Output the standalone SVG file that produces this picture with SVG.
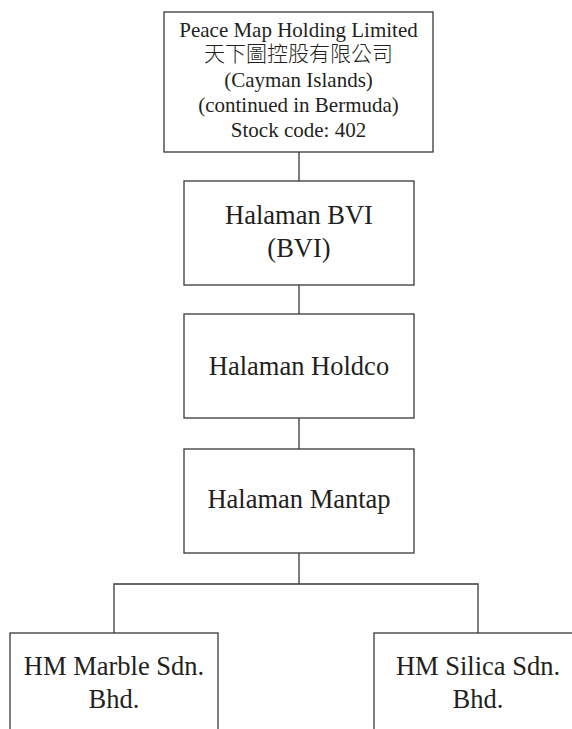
<svg xmlns="http://www.w3.org/2000/svg" width="572" height="729" viewBox="0 0 572 729">
<style>
.box{fill:#fff;stroke:#3d3737;stroke-width:1.3}
.ln{fill:none;stroke:#3d3737;stroke-width:1.3}
.t{font-family:"Liberation Serif","Noto Sans CJK TC",serif;fill:#231f20;text-anchor:middle}
.cjk{font-weight:300}
.s21{font-size:21px}
.s26{font-size:26.5px}
</style>
<rect width="572" height="729" fill="#fff"/>
<g id="connectors">
<line class="ln" x1="299" y1="152" x2="299" y2="181"/>
<line class="ln" x1="299" y1="285" x2="299" y2="314"/>
<line class="ln" x1="299" y1="418" x2="299" y2="449"/>
<line class="ln" x1="299" y1="553" x2="299" y2="584"/>
<polyline class="ln" points="114,633 114,584 478,584 478,633"/>
</g>
<g id="peace-map">
<rect class="box" x="164" y="12" width="269" height="140"/>
<text class="t s21" x="298.5" y="37">Peace Map Holding Limited</text>
<text class="t s21 cjk" x="298.5" y="61">天下圖控股有限公司</text>
<text class="t s21" x="298.5" y="87">(Cayman Islands)</text>
<text class="t s21" x="298.5" y="112">(continued in Bermuda)</text>
<text class="t s21" x="298.5" y="137">Stock code: 402</text>
</g>
<g id="halaman-bvi">
<rect class="box" x="184" y="181" width="230" height="104"/>
<text class="t s26" x="299" y="224">Halaman BVI</text>
<text class="t s26" x="299" y="257">(BVI)</text>
</g>
<g id="halaman-holdco">
<rect class="box" x="184" y="314" width="230" height="104"/>
<text class="t s26" x="299" y="375">Halaman Holdco</text>
</g>
<g id="halaman-mantap">
<rect class="box" x="184" y="449" width="230" height="104"/>
<text class="t s26" x="299" y="508">Halaman Mantap</text>
</g>
<g id="hm-marble">
<rect class="box" x="10" y="633" width="208" height="120"/>
<text class="t s26" x="114" y="675">HM Marble Sdn.</text>
<text class="t s26" x="114" y="708">Bhd.</text>
</g>
<g id="hm-silica">
<rect class="box" x="374" y="633" width="208" height="120"/>
<text class="t s26" x="478" y="675">HM Silica Sdn.</text>
<text class="t s26" x="478" y="708">Bhd.</text>
</g>
</svg>
